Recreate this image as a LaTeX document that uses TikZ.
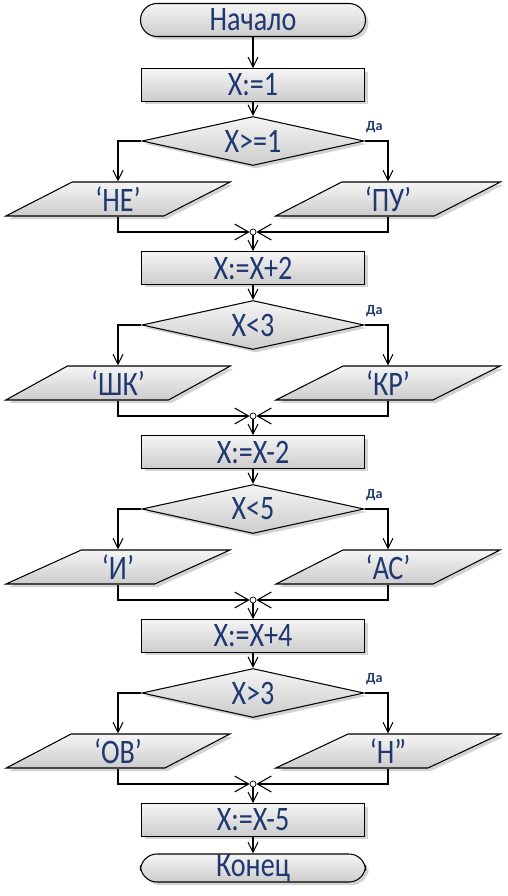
\documentclass[tikz,border=0pt]{standalone}
\usepackage{fontspec}
\setmainfont{Carlito}
\usetikzlibrary{arrows.meta,positioning,shapes.geometric,shadows}
\definecolor{inkblue}{RGB}{31,56,112}
\newcommand\tallt[1]{\scalebox{1}[1.22]{#1}}

\begin{document}
\begin{tikzpicture}[>={Straight Barb[length=2mm,width=2mm]}, font=\fontsize{16}{18}\selectfont]
			\tikzstyle{shapebase} = [draw, line width=0.6pt, text=inkblue, top color=gray!8, bottom color=gray!40, drop shadow={shadow xshift=0.6mm, shadow yshift=-0.6mm, opacity=0.35}]
			\tikzstyle{term} = [shapebase, rectangle, rounded corners=0.33cm, minimum width=4.5cm, minimum height=0.66cm, inner sep=0pt]
			\tikzstyle{box} = [shapebase, rectangle, minimum width=4.46cm, minimum height=0.65cm, inner sep=0pt]
			\tikzstyle{cond} = [shapebase, diamond, aspect=4.5, minimum width=4.44cm, minimum height=0.98cm, inner sep=0pt]
			\tikzstyle{io} = [shapebase, trapezium, trapezium left angle=37, trapezium right angle=143, trapezium stretches=true, minimum width=4.5cm, minimum height=0.68cm, inner sep=0pt]
			\tikzstyle{junc} = [draw, line width=0.4pt, circle, fill=white, minimum size=1.2mm, inner sep=0pt]
			\tikzstyle{da} = [text=inkblue, font=\fontsize{8}{9}\selectfont\bfseries, inner sep=0pt]
			\tikzstyle{sidearm} = [to path={-| (\tikztotarget)}]
			\tikzstyle{backarm} = [to path={|- (\tikztotarget)}, -{Straight Barb[length=2.8mm,width=3.2mm]}]

			\useasboundingbox (0,0) rectangle (10.16,-17.92);

			\begin{scope}
			\path[->, line width=0.6pt]

			node[term] (start) at (5.06,-0.4) {\tallt{Начало}}
			node[box] (b0) at (5.06,-1.7) {\tallt{X:=1}}

			(start) edge (b0)
			;
			\end{scope}

			% X>=1
			\begin{scope}
			\path[->, line width=0.6pt]

			node[cond] (d1) at (5.06,-2.82) {\tallt{X>=1}}
			node[da, above right=0.16cm and 0.02cm of d1.east] {Да}
			node[io] (l1) at (2.36,-3.98) {\tallt{‘НЕ’}}
			node[io] (r1) at (7.76,-3.98) {\tallt{‘ПУ’}}
			node[junc] (j1) at (5.06,-4.64) {}
			node[box] (b1) at (5.06,-5.36) {\tallt{X:=X+2}}

			(b0) edge (d1)
			(d1.west) edge[sidearm] (l1.north)
			(d1.east) edge[sidearm] (r1.north)
			(l1.south) edge[backarm] (j1)
			(r1.south) edge[backarm] (j1)
			(j1) edge (b1)
			;
			\end{scope}

			% X<3
			\begin{scope}[yshift=-3.68cm]
			\path[->, line width=0.6pt]

			node[cond] (d2) at (5.06,-2.82) {\tallt{X<3}}
			node[da, above right=0.16cm and 0.02cm of d2.east] {Да}
			node[io] (l2) at (2.36,-3.98) {\tallt{‘ШК’}}
			node[io] (r2) at (7.76,-3.98) {\tallt{‘КР’}}
			node[junc] (j2) at (5.06,-4.64) {}
			node[box] (b2) at (5.06,-5.36) {\tallt{X:=X-2}}

			(b1) edge (d2)
			(d2.west) edge[sidearm] (l2.north)
			(d2.east) edge[sidearm] (r2.north)
			(l2.south) edge[backarm] (j2)
			(r2.south) edge[backarm] (j2)
			(j2) edge (b2)
			;
			\end{scope}

			% X<5
			\begin{scope}[yshift=-7.36cm]
			\path[->, line width=0.6pt]

			node[cond] (d3) at (5.06,-2.82) {\tallt{X<5}}
			node[da, above right=0.16cm and 0.02cm of d3.east] {Да}
			node[io] (l3) at (2.36,-3.98) {\tallt{‘И’}}
			node[io] (r3) at (7.76,-3.98) {\tallt{‘АС’}}
			node[junc] (j3) at (5.06,-4.64) {}
			node[box] (b3) at (5.06,-5.36) {\tallt{X:=X+4}}

			(b2) edge (d3)
			(d3.west) edge[sidearm] (l3.north)
			(d3.east) edge[sidearm] (r3.north)
			(l3.south) edge[backarm] (j3)
			(r3.south) edge[backarm] (j3)
			(j3) edge (b3)
			;
			\end{scope}

			% X>3
			\begin{scope}[yshift=-11.04cm]
			\path[->, line width=0.6pt]

			node[cond] (d4) at (5.06,-2.82) {\tallt{X>3}}
			node[da, above right=0.16cm and 0.02cm of d4.east] {Да}
			node[io] (l4) at (2.36,-3.98) {\tallt{‘ОВ’}}
			node[io] (r4) at (7.76,-3.98) {\tallt{‘Н”}}
			node[junc] (j4) at (5.06,-4.64) {}
			node[box] (b4) at (5.06,-5.36) {\tallt{X:=X-5}}
			node[term, minimum height=0.56cm] (stop) at (5.06,-6.32) {\tallt{Конец}}

			(b3) edge (d4)
			(d4.west) edge[sidearm] (l4.north)
			(d4.east) edge[sidearm] (r4.north)
			(l4.south) edge[backarm] (j4)
			(r4.south) edge[backarm] (j4)
			(j4) edge (b4)
			(b4) edge (stop)
			;
			\end{scope}

			\end{tikzpicture}
\end{document}
